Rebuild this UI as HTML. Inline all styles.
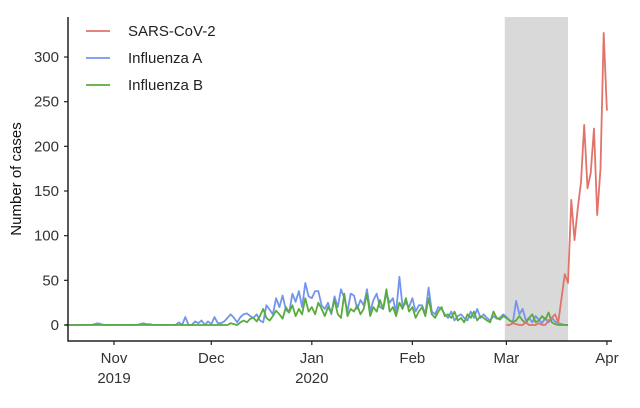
<!DOCTYPE html>
<html><head><meta charset="utf-8"><style>
body{margin:0;background:#fff;}
svg{font-family:"Liberation Sans",Arial,sans-serif;}
</style></head><body>
<svg id="chart" width="640" height="403">
<g id="plot"></g>
</svg>
<script>
const yTicks=[0,50,100,150,200,250,300];
const xTickDays=[0,30,61,92,121,152];
const xTickLabels=["Nov","Dec","Jan","Feb","Mar","Apr"];
const xTickYears=["2019","","2020","","",""];
const seriesNames=["SARS-CoV-2","Influenza A","Influenza B"];
const fluStartDay=-15;
const covidStartDay=121;
const shadeStartDay=120.5;
const shadeEndDay=140;
const covid=[0,0,2,1,0,0,3,0,0,0,2,0,0,5,8,12,3,30,57,47,140,95,130,160,224,153,170,220,123,175,327,240];
const fluA=[0,0,0,0,0,0,0,0,0,1, 2,1,0,0,0,0,0,0,0,0, 0,0,0,1,2,1,1,0,0,0, 0,0,0,0,0,3,0,9,0,0,
4,2,5,0,4,1,9,2,2,4, 8,12,8,3,9,12,13,10,8,12, 5,3,22,17,12,30,20,33,17,14, 35,26,38,20,47,32,30,38,38,22,
18,25,12,32,20,40,30,15,35,33, 18,28,22,40,15,28,35,20,18,35, 25,30,14,54,20,25,20,30,15,22,
22,12,42,15,12,20,18,12,8,15, 5,10,12,8,5,15,8,18,8,12, 8,5,10,7,8,12,9,5,3,27, 12,18,5,8,3,10,6,2,8,3, 8,4,2,1,0,0];
const fluB=[0,0,0,0,0,0,0,0,0,0, 0,0,0,0,0,0,0,0,0,0, 0,0,0,0,0,0,0,0,0,0, 0,0,0,0,0,0,0,0,0,0,
0,0,0,0,0,0,0,0,0,0, 0,2,1,0,3,5,3,7,8,4, 10,18,8,5,10,16,12,7,20,14, 22,10,18,12,30,15,20,12,25,18,
10,20,14,28,12,8,35,10,18,15, 22,12,18,35,10,20,15,28,18,40, 15,20,10,25,18,30,15,20,8,15,
20,10,30,12,8,15,20,10,12,8, 15,5,8,3,12,8,15,5,10,8, 5,3,15,8,6,10,8,5,3,5, 10,5,2,8,12,3,5,10,6,14, 3,1,0,0,0,0];

const NS="http://www.w3.org/2000/svg";
const g=document.getElementById('plot');
const X0=68,X1=612,Y0=341,Ytop=17;
function x(d){return 114+d*3.243;}
function y(v){return 325-v*0.8933;}
function el(t,a,txt){const e=document.createElementNS(NS,t);for(const k in a)e.setAttribute(k,a[k]);if(txt!==undefined)e.textContent=txt;g.appendChild(e);return e;}

let r=el('rect',{x:x(shadeStartDay),y:Ytop,width:x(shadeEndDay)-x(shadeStartDay),height:Y0-Ytop,fill:'#d9d9d9'});



function line(arr,start,color,name){
  const pts=arr.map((v,i)=>x(start+i).toFixed(1)+','+y(v).toFixed(1)).join(' ');
  const p=el('polyline',{points:pts,fill:'none',stroke:color,'stroke-width':1.8,'stroke-linejoin':'round'});
  
  
}
line(fluA,fluStartDay,'#7495ee','influenza-a-line');
line(fluB,fluStartDay,'#58ac3e','influenza-b-line');
line(covid,covidStartDay,'#e0736a','sars-cov-2-line');

let ax=el('path',{d:`M${X0},${Ytop}V${Y0}H${X1}`,fill:'none',stroke:'#222','stroke-width':1.5});


yTicks.forEach(v=>{
  el('line',{x1:X0-4,x2:X0,y1:y(v),y2:y(v),stroke:'#222','stroke-width':1.2});
  const t=el('text',{x:X0-9,y:y(v)+5,'text-anchor':'end','font-size':15,fill:'#333'},v);
  
  
});
xTickDays.forEach((d,i)=>{
  el('line',{x1:x(d),x2:x(d),y1:Y0,y2:Y0+4,stroke:'#222','stroke-width':1.2});
  const t=el('text',{x:x(d),y:363,'text-anchor':'middle','font-size':15,fill:'#333'},xTickLabels[i]);
  
  
  if(xTickYears[i]){
    const t2=el('text',{x:x(d),y:383,'text-anchor':'middle','font-size':15,fill:'#333'},xTickYears[i]);
    
    
  }
});
const yt=el('text',{x:0,y:0,transform:'translate(21,179) rotate(-90)','text-anchor':'middle','font-size':15,fill:'#111'},'Number of cases');


const colors=['#e0736a','#7495ee','#58ac3e'];
seriesNames.forEach((n,i)=>{
  const yy=31+i*27;
  const l=el('line',{x1:86,x2:110,y1:yy,y2:yy,stroke:colors[i],'stroke-width':1.8});
  
  
  const t=el('text',{x:128,y:yy+5,'font-size':15,fill:'#222'},n);
  
  
});
</script>
</body></html>
